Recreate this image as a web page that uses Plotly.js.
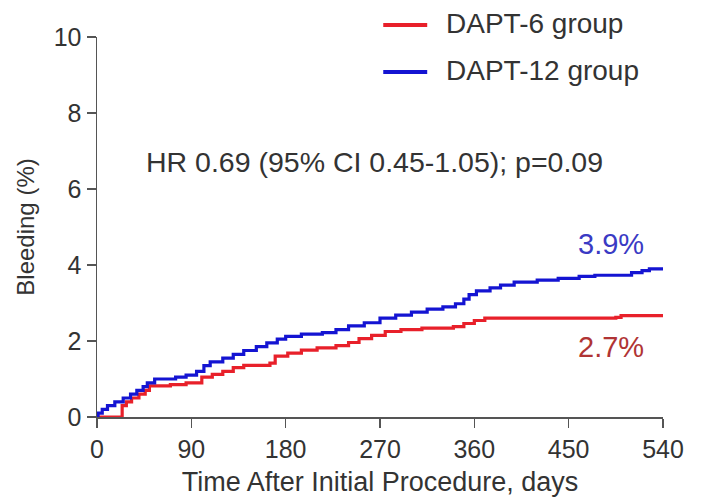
<!DOCTYPE html>
<html>
<head>
<meta charset="utf-8">
<script src="https://cdn.plot.ly/plotly-3.0.1.min.js"></script>
<style>html,body{margin:0;padding:0;background:#fff;}#chart{width:701px;height:498px;}</style>
</head>
<body>
<div id="chart"></div>
<script>
// Cumulative bleeding (%) (step curves)
const dapt6Days = [0, 24, 28, 33, 40, 46, 50, 70, 85, 100, 110, 120, 130, 140, 165, 170, 182, 195, 210, 228, 240, 250, 262, 275, 290, 310, 340, 350, 360, 370, 495, 500, 540];
const dapt6Pct  = [0, 0.3, 0.4, 0.5, 0.6, 0.7, 0.82, 0.85, 0.9, 1.05, 1.12, 1.2, 1.3, 1.36, 1.42, 1.6, 1.68, 1.76, 1.82, 1.88, 1.96, 2.06, 2.15, 2.25, 2.3, 2.34, 2.38, 2.46, 2.54, 2.6, 2.62, 2.67, 2.67];
const dapt12Days = [0, 1, 5, 10, 17, 25, 32, 38, 44, 48, 55, 75, 85, 95, 102, 108, 120, 130, 140, 152, 162, 172, 180, 195, 215, 228, 240, 255, 270, 285, 300, 315, 330, 342, 350, 355, 362, 375, 385, 398, 420, 440, 460, 475, 510, 520, 527, 540];
const dapt12Pct  = [0, 0.1, 0.2, 0.3, 0.4, 0.5, 0.6, 0.7, 0.8, 0.9, 1.0, 1.05, 1.1, 1.2, 1.35, 1.45, 1.55, 1.65, 1.75, 1.85, 1.95, 2.05, 2.12, 2.18, 2.22, 2.3, 2.4, 2.48, 2.6, 2.68, 2.76, 2.84, 2.9, 2.98, 3.1, 3.22, 3.32, 3.4, 3.47, 3.55, 3.6, 3.65, 3.7, 3.73, 3.8, 3.85, 3.9, 3.9];
const seriesNames = ["DAPT-6 group", "DAPT-12 group"];
const xTicks = [0, 90, 180, 270, 360, 450, 540];
const yTicks = [0, 2, 4, 6, 8, 10];
const hrText = "HR 0.69 (95% CI 0.45-1.05); p=0.09";
const endLabels = ["2.7%", "3.9%"];

const font = "Arial, 'Liberation Sans', sans-serif";
const colors = ["#e8202a", "#1414d2"];

const W = 701, H = 498;
const M = {l: 96.5, r: 38, t: 37, b: 81};
const plotW = W - M.l - M.r, plotH = H - M.t - M.b;
const px2x = p => (p - M.l) / plotW;   // pixel -> paper x
const px2y = p => (H - M.b - p) / plotH; // pixel -> paper y

const traces = seriesNames.map((nm, i) => ({
  x: i === 0 ? dapt6Days : dapt12Days,
  y: i === 0 ? dapt6Pct : dapt12Pct,
  name: nm, mode: "lines", showlegend: false,
  line: {color: colors[i], width: 3.2, shape: "hv"}
}));

// legend drawn as key lines + labels above the plot area
const legendRowsPx = [25, 72];
const shapes = seriesNames.map((nm, i) => ({
  type: "line", xref: "paper", yref: "paper",
  x0: px2x(383), x1: px2x(427), y0: px2y(legendRowsPx[i]), y1: px2y(legendRowsPx[i]),
  line: {color: colors[i], width: 4}
}));
const legendAnn = seriesNames.map((nm, i) => ({
  xref: "paper", yref: "paper", x: px2x(444), y: px2y(legendRowsPx[i] - 1.5),
  xanchor: "left", yanchor: "middle", text: nm, showarrow: false,
  font: {size: 28, color: "#333"}
}));

const layout = {
  width: W, height: H,
  margin: M,
  paper_bgcolor: "#fff", plot_bgcolor: "#fff",
  font: {family: font, color: "#333", size: 25},
  showlegend: false,
  xaxis: {
    range: [0, 540], tickvals: xTicks, ticktext: xTicks.map(String),
    showline: true, linecolor: "#555", linewidth: 1.5, ticks: "outside", ticklen: 9, tickwidth: 1.5, tickcolor: "#555",
    showgrid: false, zeroline: false, tickfont: {size: 25, color: "#333"},
    title: {text: "Time After Initial Procedure, days", font: {size: 27, color: "#333"}, standoff: 10}
  },
  yaxis: {
    range: [0, 10], tickvals: yTicks, ticktext: yTicks.map(String),
    showline: true, linecolor: "#555", linewidth: 1.5, ticks: "outside", ticklen: 9, tickwidth: 1.5, tickcolor: "#555",
    showgrid: false, zeroline: false, tickfont: {size: 25, color: "#333"},
    title: {text: "Bleeding (%)", font: {size: 24, color: "#333"}, standoff: 12}
  },
  shapes: shapes,
  annotations: [
    {xref: "x", yref: "y", x: 265, y: 6.72, text: hrText, showarrow: false, font: {size: 28.5, color: "#333"}},
    {xref: "x", yref: "y", x: 524, y: 4.55, text: endLabels[1], showarrow: false, xanchor: "right", font: {size: 29, color: "#3a3ac4"}},
    {xref: "x", yref: "y", x: 524, y: 1.85, text: endLabels[0], showarrow: false, xanchor: "right", font: {size: 29, color: "#b03434"}}
  ].concat(legendAnn)
};

Plotly.newPlot("chart", traces, layout, {displayModeBar: false, staticPlot: true});
</script>
</body>
</html>
